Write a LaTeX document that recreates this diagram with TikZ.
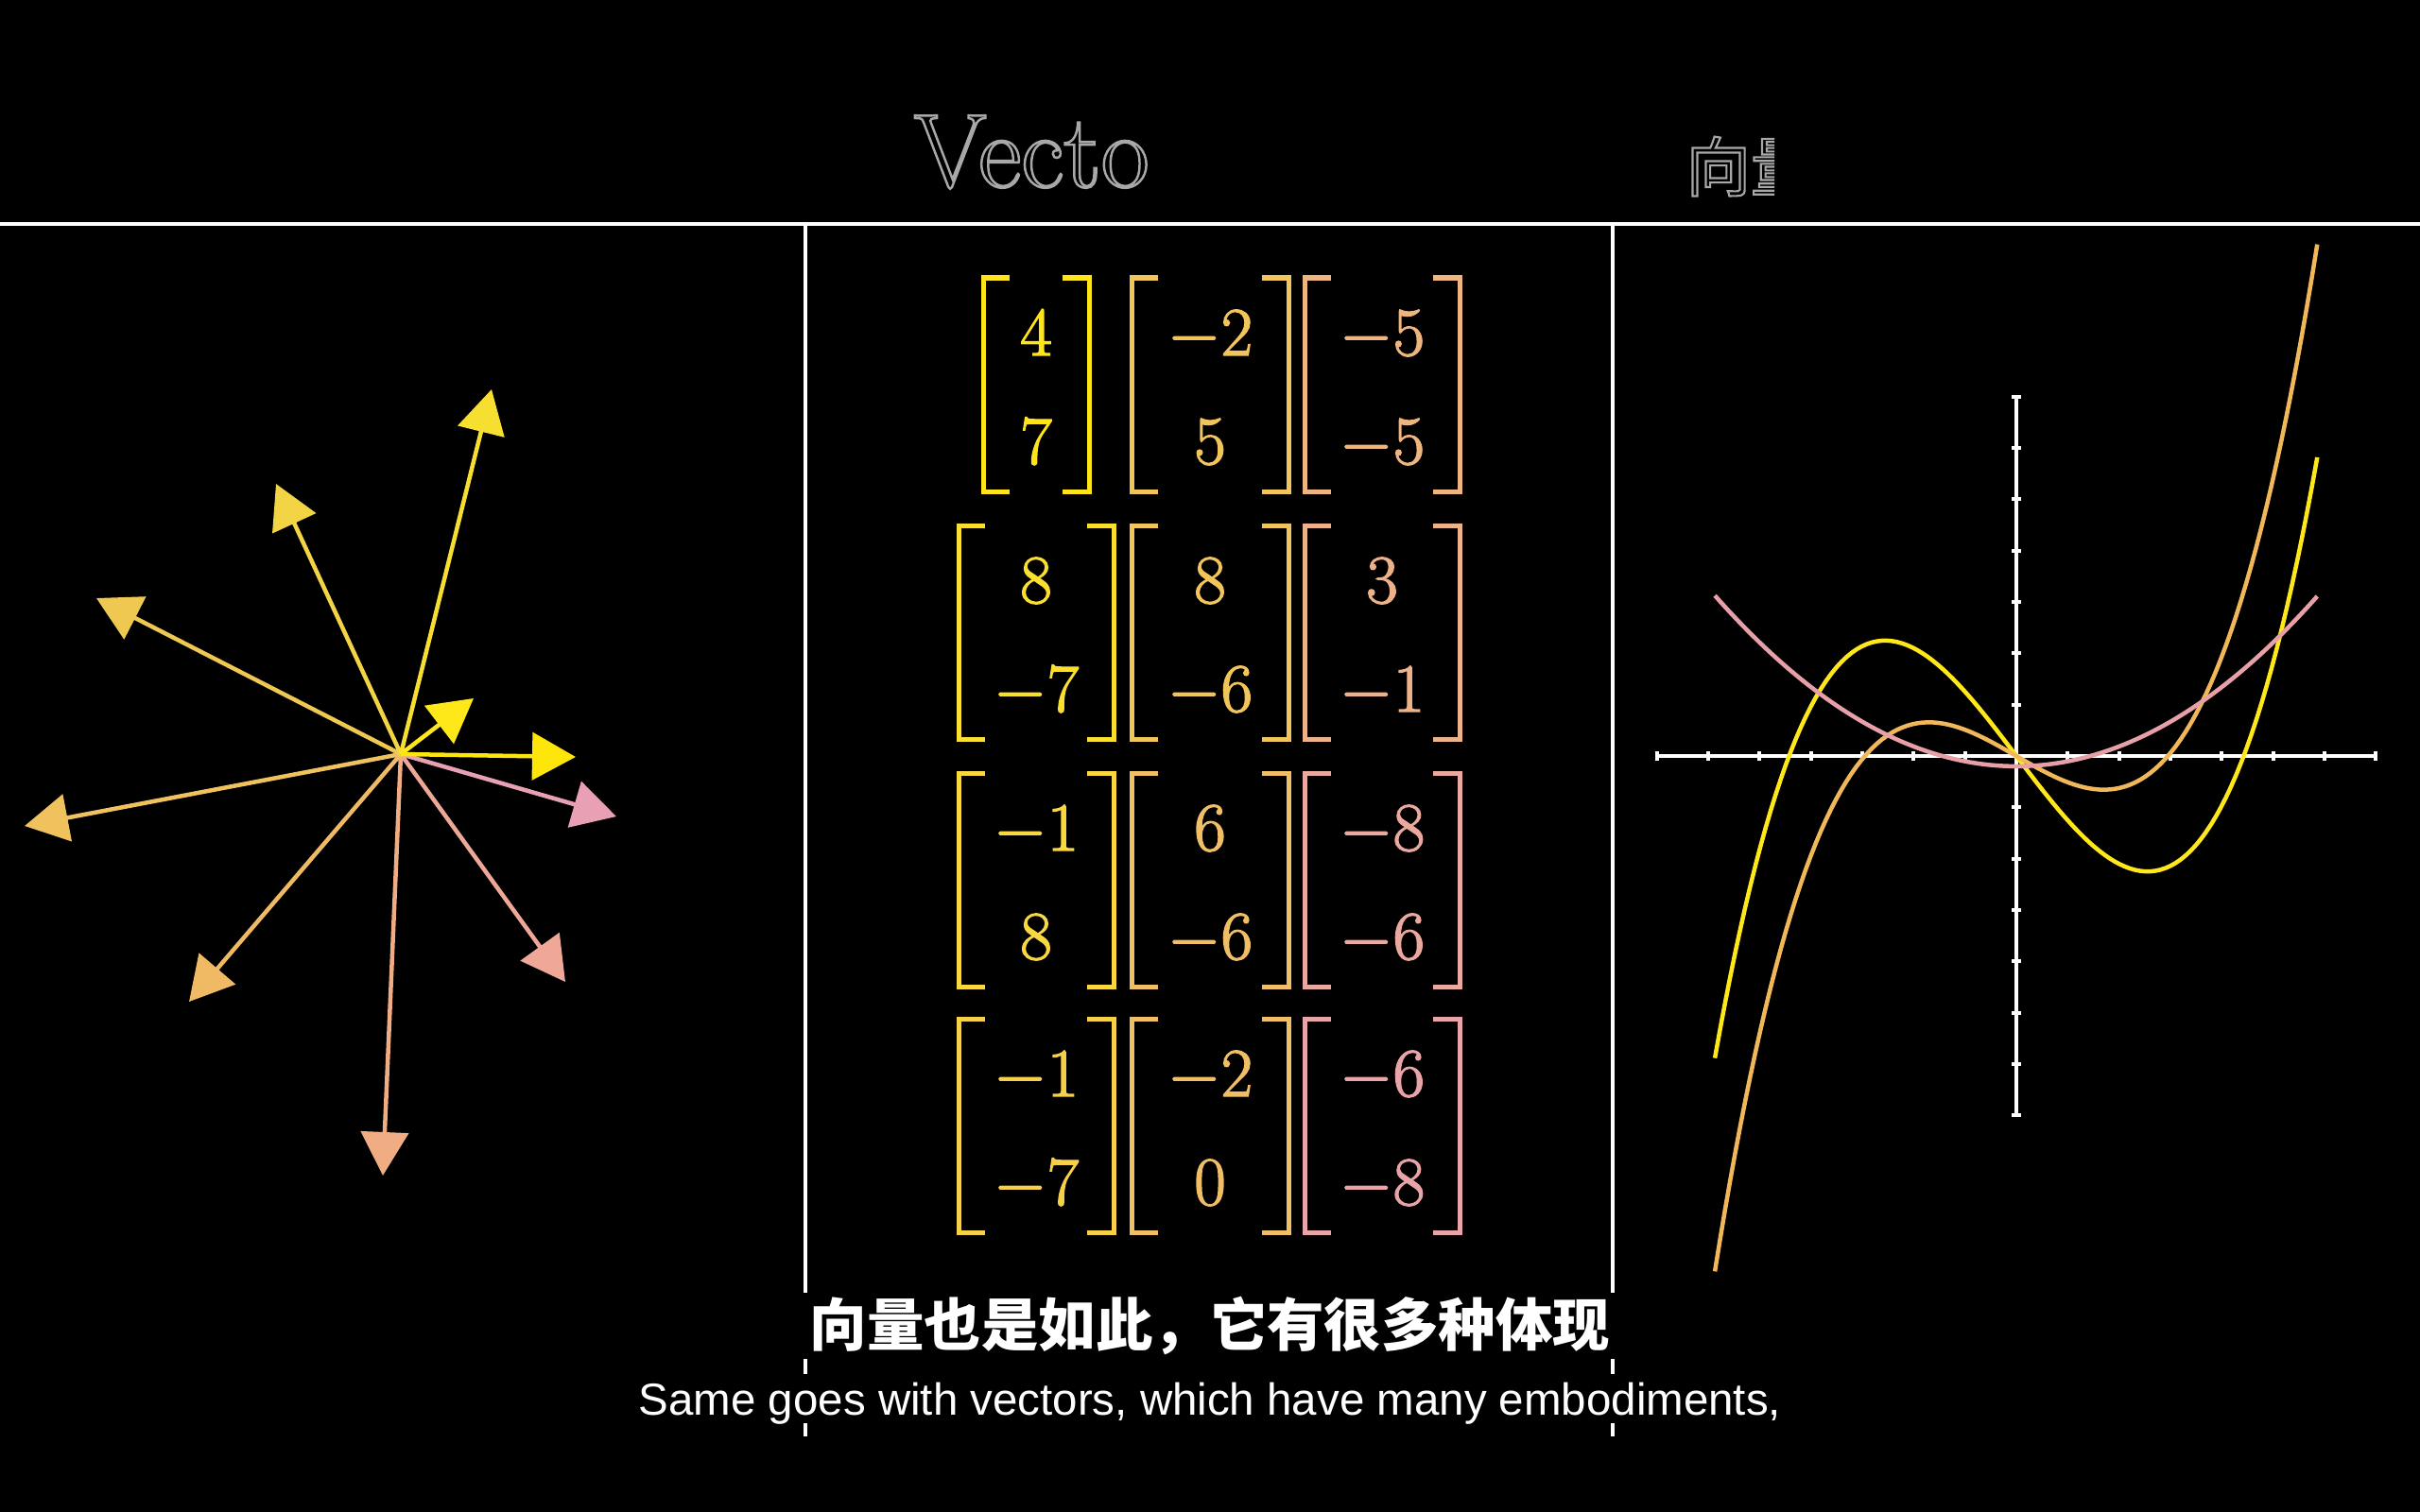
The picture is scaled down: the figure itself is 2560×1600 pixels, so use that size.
\documentclass[tikz,border=0pt]{standalone}
\usepackage{amsmath}
\usepackage{fontspec}
\setsansfont{Liberation Sans}
\newfontfamily\cjk{Noto Sans CJK SC}
\usepackage{xcolor}
\usetikzlibrary{arrows.meta}

\definecolor{titlegray}{HTML}{A8A8A8}
% arrow colours
\definecolor{ca}{HTML}{F6DF30}
\definecolor{cb}{HTML}{F2D445}
\definecolor{cc}{HTML}{EFC852}
\definecolor{cd}{HTML}{FFE81A}
\definecolor{ce}{HTML}{FFE60A}
\definecolor{cf}{HTML}{E8A0B4}
\definecolor{cg}{HTML}{EFA898}
\definecolor{ch}{HTML}{F0AC82}
\definecolor{ci}{HTML}{F0BA65}
\definecolor{cj}{HTML}{F0C25E}
% matrix colours
\definecolor{ma}{HTML}{FFE419}
\definecolor{mb}{HTML}{FBDF30}
\definecolor{mc}{HTML}{F8D83E}
\definecolor{md}{HTML}{F5D048}
\definecolor{me}{HTML}{F2C55A}
\definecolor{mf}{HTML}{F0BE64}
\definecolor{mg}{HTML}{EEB67E}
\definecolor{mh}{HTML}{EEB28A}
\definecolor{mi}{HTML}{EBA89E}
\definecolor{mj}{HTML}{E8A4A8}
% curve colours
\definecolor{gyel}{HTML}{FFE81A}
\definecolor{gora}{HTML}{F0B858}
\definecolor{gpin}{HTML}{E8A0A8}

% hollow (stroked) letters, and slightly heavier ones
\newcommand{\hollow}[2]{\special{pdf:literal direct 1 Tr #1 w}#2\special{pdf:literal direct 0 Tr}}
\newcommand{\heavy}[2]{\special{pdf:literal direct 2 Tr #1 w}#2\special{pdf:literal direct 0 Tr}}

% one bracketed column vector
\newcommand{\colvec}[7]{%
  \draw[bracket, #5] ({#2-#4+28},#3) -- ({#2-#4},#3) -- ({#2-#4},{#3+226}) -- ({#2-#4+28},{#3+226});
  \draw[bracket, #5] ({#2+#4-28},#3) -- ({#2+#4},#3) -- ({#2+#4},{#3+226}) -- ({#2+#4-28},{#3+226});
  \node[entry, text=#5] (#1t) at (#2,{#3+82}) {\heavy{0.4}{$#6$}};
  \node[entry, text=#5] (#1b) at (#2,{#3+197}) {\heavy{0.4}{$#7$}};
}

\begin{document}
\begin{tikzpicture}[x=0.01cm, y=-0.01cm,
    vec/.style={line width=0.045cm, -{Triangle[length=0.46cm,width=0.5cm]}},
    rule/.style={white, line width=0.04cm},
    bracket/.style={line width=0.05cm, line join=miter},
    entry/.style={anchor=base, inner sep=0pt, font=\fontsize{22.5}{27}\selectfont},
    curve/.style={line width=0.045cm},
    tick/.style={white, line width=0.04cm}]
    \fill[black] (0,0) rectangle (2560,1600);
    \useasboundingbox (0,0) rectangle (2560,1600);

    % title
    \node[anchor=base west, inner sep=0pt, text=titlegray, font=\fontsize{31.6}{36}\selectfont]
        (title) at (966,198) {\hollow{0.7}{Vecto}};
    \begin{scope}
        \clip (1770,120) rectangle (1877,230);
        \node[anchor=base west, inner sep=0pt, text=titlegray, font=\cjk\fontsize{19.4}{22}\selectfont]
            (titlezh) at (1783,202) {\hollow{0.6}{向量}};
    \end{scope}

    % frame
    \draw[rule] (0,237) -- (2560,237);
    \draw[rule] (852,237) -- (852,1368);
    \draw[rule] (852,1438) -- (852,1454);
    \draw[rule] (852,1506) -- (852,1520);
    \draw[rule] (1706,237) -- (1706,1368);
    \draw[rule] (1706,1438) -- (1706,1454);
    \draw[rule] (1706,1506) -- (1706,1520);

    % arrows
    \coordinate (o) at (424,798);
    \coordinate (v1) at (520,412);
    \coordinate (v2) at (292,512);
    \coordinate (v3) at (102,633);
    \coordinate (v4) at (501,739);
    \coordinate (v5) at (609,801);
    \coordinate (v6) at (652,864);
    \coordinate (v7) at (598,1039);
    \coordinate (v8) at (405,1244);
    \coordinate (v9) at (200,1060);
    \coordinate (v10) at (26,874);
    \draw[vec, cf] (o) -- (v6);
    \draw[vec, cg] (o) -- (v7);
    \draw[vec, ch] (o) -- (v8);
    \draw[vec, ci] (o) -- (v9);
    \draw[vec, cj] (o) -- (v10);
    \draw[vec, cc] (o) -- (v3);
    \draw[vec, cb] (o) -- (v2);
    \draw[vec, ca] (o) -- (v1);
    \draw[vec, cd] (o) -- (v4);
    \draw[vec, ce] (o) -- (v5);

    % column vectors
    \colvec{ma}{1096}{294}{56}{ma}{4}{7}
    \colvec{mb}{1280}{294}{83}{me}{-2}{5}
    \colvec{mc}{1462}{294}{82}{mg}{-5}{-5}
    \colvec{md}{1096}{556}{82}{mb}{8}{-7}
    \colvec{me}{1280}{556}{83}{me}{8}{-6}
    \colvec{mf}{1462}{556}{82}{mh}{3}{-1}
    \colvec{mg}{1096}{818}{82}{mc}{-1}{8}
    \colvec{mh}{1280}{818}{83}{mf}{6}{-6}
    \colvec{mi}{1462}{818}{82}{mi}{-8}{-6}
    \colvec{mj}{1096}{1078}{82}{md}{-1}{-7}
    \colvec{mk}{1280}{1078}{83}{mf}{-2}{0}
    \colvec{ml}{1462}{1078}{82}{mj}{-6}{-8}

    % polynomials
    \begin{scope}[shift={(2133,800)}, x=0.543cm, y=0.543cm]
        \draw[rule] (-7,0) -- (7,0);
        \draw[rule] (0,-7) -- (0,7);
        \foreach \k in {-7,...,7} {
            \draw[tick] (\k,-0.1) -- (\k,0.1);
            \draw[tick] (-0.1,\k) -- (0.1,\k);
        }
        \draw[curve, gyel, domain=-5.87:5.86, samples=120] plot (\x,{0.0674*\x*\x*\x-1.32*\x});
        \draw[curve, gora, domain=-5.87:5.86, samples=120] plot (\x,{0.0664*\x*\x*\x-0.578*\x});
        \draw[curve, gpin, domain=-5.87:5.86, samples=120] plot (\x,{0.0965*\x*\x-0.2});
    \end{scope}

    % subtitles
    \node[text=white, font=\cjk\bfseries\fontsize{17.2}{20}\selectfont]
        (subzh) at (1280,1403) {向量也是如此，它有很多种体现};
    \node[anchor=base, text=white, font=\sffamily\fontsize{13.5}{16}\selectfont]
        (suben) at (1280,1497) {Same goes with vectors, which have many embodiments,};
\end{tikzpicture}
\end{document}
